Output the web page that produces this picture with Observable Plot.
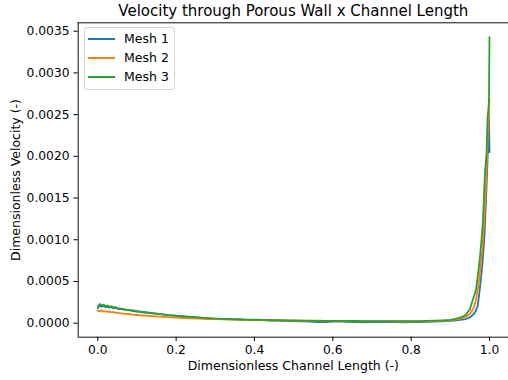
<!DOCTYPE html>
<html>
<head>
<meta charset="utf-8">
<script src="https://cdn.jsdelivr.net/npm/d3@7"></script>
<script src="https://cdn.jsdelivr.net/npm/@observablehq/plot@0.6"></script>
<style>
  html, body { margin: 0; padding: 0; background: #fff; }
  #chart { position: relative; width: 508px; height: 380px; font-family: "DejaVu Sans", sans-serif; color: #000; }
  #chart svg { display: block; }
  .legend { position: absolute; left: 84px; top: 27px; width: 89px; height: 61px;
            border: 1px solid rgba(204,204,204,0.8); border-radius: 3px; background: rgba(255,255,255,0.8); }
  .legend .swatch { position: absolute; left: 3px; width: 27px; height: 2px; }
  .legend .label { position: absolute; left: 39px; font-size: 12.5px; line-height: 14px; white-space: nowrap; }
</style>
</head>
<body>
<div id="chart"></div>
<script>
// Text
const title = "Velocity through Porous Wall x Channel Length";
const xLabel = "Dimensionless Channel Length (-)";
const yLabel = "Dimensionless Velocity (-)";
const seriesNames = ["Mesh 1", "Mesh 2", "Mesh 3"];
const seriesColors = ["#1f77b4", "#ff7f0e", "#2ca02c"];

// Tick values
const xTicks = [0, 0.2, 0.4, 0.6, 0.8, 1.0];
const yTicks = [0, 0.0005, 0.001, 0.0015, 0.002, 0.0025, 0.003, 0.0035];

// Sample positions along the channel (dimensionless)
const xs = [
  0, 0.005, 0.01, 0.015, 0.02, 0.025, 0.03, 0.035, 0.04, 0.045, 0.05,
  0.06, 0.07, 0.08, 0.09, 0.10,
  0.12, 0.14, 0.16, 0.18, 0.20, 0.22, 0.24, 0.26, 0.28, 0.30,
  0.32, 0.34, 0.36, 0.38, 0.40, 0.42, 0.44, 0.46, 0.48, 0.50,
  0.52, 0.54, 0.56, 0.58, 0.60, 0.62, 0.64, 0.66, 0.68, 0.70,
  0.72, 0.74, 0.76, 0.78, 0.80, 0.82, 0.84, 0.86, 0.88, 0.90,
  0.91, 0.92, 0.93, 0.94, 0.95, 0.96,
  0.965, 0.97, 0.975, 0.98,
  0.9825, 0.985, 0.9875, 0.99, 0.9925, 0.995,
  0.997, 0.9985, 1.0
];

// Wall velocity, Mesh 1
const mesh1 = [
  1.80e-4, 2.15e-4, 1.95e-4, 2.10e-4, 1.90e-4, 2.00e-4, 1.85e-4, 1.95e-4, 1.78e-4, 1.85e-4, 1.72e-4,
  1.68e-4, 1.62e-4, 1.60e-4, 1.45e-4, 1.40e-4,
  1.28e-4, 1.18e-4, 1.08e-4, 0.96e-4, 0.90e-4, 0.80e-4, 0.74e-4, 0.66e-4, 0.58e-4, 0.52e-4,
  0.50e-4, 0.46e-4, 0.44e-4, 0.40e-4, 0.38e-4, 0.36e-4, 0.32e-4, 0.30e-4, 0.28e-4, 0.24e-4,
  0.22e-4, 0.18e-4, 0.12e-4, 0.14e-4, 0.20e-4, 0.18e-4, 0.16e-4, 0.14e-4, 0.10e-4, 0.12e-4,
  0.16e-4, 0.14e-4, 0.12e-4, 0.10e-4, 0.12e-4, 0.14e-4, 0.16e-4, 0.18e-4, 0.22e-4, 0.28e-4,
  0.32e-4, 0.36e-4, 0.42e-4, 0.50e-4, 0.70e-4, 1.10e-4,
  1.50e-4, 2.10e-4, 4.00e-4, 6.20e-4,
  7.40e-4, 9.00e-4, 10.80e-4, 13.50e-4, 16.50e-4, 19.50e-4,
  22.50e-4, 25.10e-4, 20.50e-4
];

// Wall velocity, Mesh 2
const mesh2 = [
  1.50e-4, 1.42e-4, 1.55e-4, 1.38e-4, 1.45e-4, 1.35e-4, 1.40e-4, 1.30e-4, 1.34e-4, 1.25e-4, 1.24e-4,
  1.18e-4, 1.12e-4, 1.10e-4, 1.02e-4, 0.98e-4,
  0.90e-4, 0.84e-4, 0.78e-4, 0.72e-4, 0.66e-4, 0.62e-4, 0.58e-4, 0.54e-4, 0.50e-4, 0.48e-4,
  0.46e-4, 0.44e-4, 0.42e-4, 0.40e-4, 0.38e-4, 0.36e-4, 0.35e-4, 0.33e-4, 0.32e-4, 0.30e-4,
  0.29e-4, 0.28e-4, 0.27e-4, 0.26e-4, 0.25e-4, 0.24e-4, 0.24e-4, 0.23e-4, 0.22e-4, 0.22e-4,
  0.21e-4, 0.21e-4, 0.20e-4, 0.20e-4, 0.20e-4, 0.21e-4, 0.22e-4, 0.24e-4, 0.28e-4, 0.34e-4,
  0.40e-4, 0.48e-4, 0.60e-4, 0.78e-4, 1.10e-4, 1.90e-4,
  2.70e-4, 4.00e-4, 5.70e-4, 8.00e-4,
  9.40e-4, 11.10e-4, 13.00e-4, 15.50e-4, 18.50e-4, 21.50e-4,
  24.00e-4, 25.80e-4, 26.80e-4
];

// Wall velocity, Mesh 3
const mesh3 = [
  2.00e-4, 2.30e-4, 2.12e-4, 2.22e-4, 2.05e-4, 2.12e-4, 1.96e-4, 2.02e-4, 1.88e-4, 1.92e-4, 1.80e-4,
  1.74e-4, 1.64e-4, 1.56e-4, 1.52e-4, 1.44e-4,
  1.32e-4, 1.20e-4, 1.08e-4, 0.96e-4, 0.88e-4, 0.80e-4, 0.72e-4, 0.66e-4, 0.60e-4, 0.55e-4,
  0.52e-4, 0.49e-4, 0.46e-4, 0.43e-4, 0.41e-4, 0.39e-4, 0.37e-4, 0.35e-4, 0.34e-4, 0.32e-4,
  0.31e-4, 0.30e-4, 0.29e-4, 0.28e-4, 0.27e-4, 0.27e-4, 0.26e-4, 0.26e-4, 0.25e-4, 0.25e-4,
  0.24e-4, 0.24e-4, 0.24e-4, 0.23e-4, 0.24e-4, 0.25e-4, 0.27e-4, 0.30e-4, 0.34e-4, 0.40e-4,
  0.48e-4, 0.60e-4, 0.76e-4, 1.00e-4, 1.70e-4, 3.20e-4,
  3.90e-4, 5.60e-4, 7.60e-4, 10.20e-4,
  11.70e-4, 14.10e-4, 17.20e-4, 19.00e-4, 20.40e-4, 24.70e-4,
  25.50e-4, 26.50e-4, 34.30e-4
];

const seriesValues = [mesh1, mesh2, mesh3];
const xDomain = [-0.05, 1.0485];
const yDomain = [-0.000168, 0.0036007];

const seriesRows = seriesValues.map(vals => xs.map((x, i) => ({x, y: vals[i]})));

const plot = Plot.plot({
  width: 508,
  height: 380,
  marginTop: 22.3,
  marginBottom: 43.3,
  marginLeft: 77.7,
  marginRight: 0,
  style: {fontFamily: "DejaVu Sans, sans-serif", fontSize: "12.5px", background: "#fff", color: "#000"},
  x: {domain: xDomain},
  y: {domain: yDomain},
  marks: [
    ...seriesRows.map((rows, k) => Plot.line(rows, {
      x: "x", y: "y", stroke: seriesColors[k], strokeWidth: 1.8, clip: true
    })),
    // Spines: left, bottom and top
    Plot.ruleX([xDomain[0]], {stroke: "#000", strokeWidth: 0.96}),
    Plot.ruleY(yDomain, {stroke: "#000", strokeWidth: 0.96}),
    Plot.axisX({ticks: xTicks, tickFormat: d3.format(".1f"), tickSize: 4.3, tickPadding: 4.1, label: null, fontSize: 12.3}),
    Plot.axisY({ticks: yTicks, tickFormat: d3.format(".4f"), tickSize: 4.3, tickPadding: 4.3, label: null, fontSize: 12.3}),
    Plot.text([title], {text: d => d, frameAnchor: "top", lineAnchor: "middle", textAnchor: "middle", dy: -12, fontSize: 15}),
    Plot.text([xLabel], {text: d => d, frameAnchor: "bottom", lineAnchor: "middle", textAnchor: "middle", dy: 28.5, fontSize: 12.5}),
    Plot.text([yLabel], {text: d => d, frameAnchor: "left", lineAnchor: "middle", textAnchor: "middle", dx: -62, rotate: -90, fontSize: 12.5})
  ]
});

const chart = document.getElementById("chart");
chart.appendChild(plot);

// Legend box in the upper left of the axes
const legend = document.createElement("div");
legend.className = "legend";
seriesNames.forEach((name, i) => {
  const sw = document.createElement("div");
  sw.className = "swatch";
  sw.style.top = (10 + Math.round(i * 19.2)) + "px";
  sw.style.background = seriesColors[i];
  const lb = document.createElement("div");
  lb.className = "label";
  lb.style.top = (4 + Math.round(i * 19.2)) + "px";
  lb.textContent = name;
  legend.appendChild(sw);
  legend.appendChild(lb);
});
chart.appendChild(legend);
</script>
</body>
</html>
